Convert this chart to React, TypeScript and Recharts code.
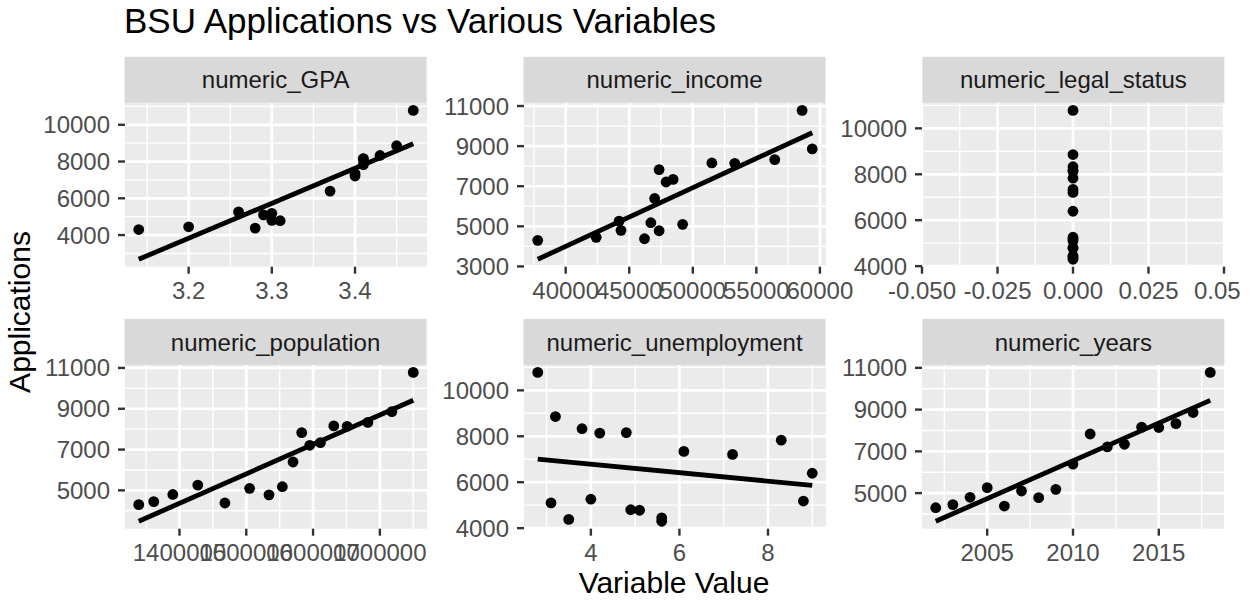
import React from 'react';
import { ScatterChart, Scatter, XAxis, YAxis, CartesianGrid, ReferenceLine } from 'recharts';

// ---------------- data ----------------
const years = [2002, 2003, 2004, 2005, 2006, 2007, 2008, 2009, 2010, 2011, 2012, 2013, 2014, 2015, 2016, 2017, 2018];
const applications = [4300, 4450, 4800, 5260, 4380, 5100, 4780, 5180, 6390, 7830, 7210, 7340, 8160, 8140, 8330, 8860, 10780];
const gpa = [3.14, 3.2, 3.3, 3.26, 3.28, 3.29, 3.31, 3.3, 3.37, 3.41, 3.4, 3.4, 3.41, 3.41, 3.43, 3.45, 3.47];
const income = [37800, 42400, 44350, 44200, 46200, 49200, 47350, 46700, 47000, 47350, 47900, 48450, 51500, 53300, 56450, 59400, 58600];
const legalStatus = [0, 0, 0, 0, 0, 0, 0, 0, 0, 0, 0, 0, 0, 0, 0, 0, 0];
const population = [1339000, 1361500, 1390000, 1427400, 1468000, 1505000, 1534000, 1554000, 1570000, 1583000, 1595000, 1611000, 1631000, 1651000, 1682000, 1718000, 1750000];
const unemployment = [5.6, 5.6, 4.9, 4.0, 3.5, 3.1, 5.1, 8.8, 9.0, 8.3, 7.2, 6.1, 4.8, 4.2, 3.8, 3.2, 2.8];

const panelNames = ['numeric_GPA', 'numeric_income', 'numeric_legal_status', 'numeric_population', 'numeric_unemployment', 'numeric_years'];

const xTicksGPA = [3.2, 3.3, 3.4];
const xMinorGPA = [3.15, 3.25, 3.35, 3.45];
const yTicksGPA = [4000, 6000, 8000, 10000];
const yMinorGPA = [3000, 5000, 7000, 9000, 11000];

const xTicksIncome = [40000, 45000, 50000, 55000, 60000];
const xMinorIncome = [37500, 42500, 47500, 52500, 57500];
const yTicksIncome = [3000, 5000, 7000, 9000, 11000];
const yMinorIncome = [4000, 6000, 8000, 10000];

const xTicksLegal = [-0.05, -0.025, 0, 0.025, 0.05];
const xMinorLegal = [-0.0375, -0.0125, 0.0125, 0.0375];
const yTicksLegal = [4000, 6000, 8000, 10000];
const yMinorLegal = [5000, 7000, 9000, 11000];

const xTicksPop = [1400000, 1500000, 1600000, 1700000];
const xMinorPop = [1350000, 1450000, 1550000, 1650000, 1750000];
const yTicksPop = [5000, 7000, 9000, 11000];
const yMinorPop = [4000, 6000, 8000, 10000];

const xTicksUnemp = [4, 6, 8];
const xMinorUnemp = [3, 5, 7, 9];
const yTicksUnemp = [4000, 6000, 8000, 10000];
const yMinorUnemp = [5000, 7000, 9000, 11000];

const xTicksYears = [2005, 2010, 2015];
const xMinorYears = [2002.5, 2007.5, 2012.5, 2017.5];
const yTicksYears = [5000, 7000, 9000, 11000];
const yMinorYears = [4000, 6000, 8000, 10000];

// ---------------- layout ----------------
const FONT = '"Liberation Sans", Arial, Helvetica, sans-serif';
const PW = 302;
const PH = 163.7;
const colLeft = [124.6, 523.5, 922.4];
const rowTop = [102.8, 364.9];
const STRIP_H = 46;
const YW = 120;
const XH = 50;
const MT = 20;
const MR = 50;
const DEVICE_W = 1241;

type PanelDef = {
  name: string;
  xs: number[];
  xTicks: number[];
  xMinor: number[];
  yTicks: number[];
  yMinor: number[];
  col: number;
  row: number;
  fmt?: (v: number) => string;
};

const panels: PanelDef[] = [
  { name: panelNames[0], xs: gpa, xTicks: xTicksGPA, xMinor: xMinorGPA, yTicks: yTicksGPA, yMinor: yMinorGPA, col: 0, row: 0, fmt: (v) => v.toFixed(1) },
  { name: panelNames[1], xs: income, xTicks: xTicksIncome, xMinor: xMinorIncome, yTicks: yTicksIncome, yMinor: yMinorIncome, col: 1, row: 0 },
  { name: panelNames[2], xs: legalStatus, xTicks: xTicksLegal, xMinor: xMinorLegal, yTicks: yTicksLegal, yMinor: yMinorLegal, col: 2, row: 0, fmt: (v) => v.toFixed(3) },
  { name: panelNames[3], xs: population, xTicks: xTicksPop, xMinor: xMinorPop, yTicks: yTicksPop, yMinor: yMinorPop, col: 0, row: 1 },
  { name: panelNames[4], xs: unemployment, xTicks: xTicksUnemp, xMinor: xMinorUnemp, yTicks: yTicksUnemp, yMinor: yMinorUnemp, col: 1, row: 1 },
  { name: panelNames[5], xs: years, xTicks: xTicksYears, xMinor: xMinorYears, yTicks: yTicksYears, yMinor: yMinorYears, col: 2, row: 1 },
];

function lmFit(xs: number[], ys: number[]) {
  const n = xs.length;
  const mx = xs.reduce((a, b) => a + b, 0) / n;
  const my = ys.reduce((a, b) => a + b, 0) / n;
  let sxx = 0;
  let sxy = 0;
  for (let i = 0; i < n; i++) {
    sxx += (xs[i] - mx) * (xs[i] - mx);
    sxy += (xs[i] - mx) * (ys[i] - my);
  }
  if (sxx < 1e-12) return null;
  const b = sxy / sxx;
  const a = my - b * mx;
  const x0 = Math.min(...xs);
  const x1 = Math.max(...xs);
  return [
    { x: x0, y: a + b * x0 },
    { x: x1, y: a + b * x1 },
  ];
}

const Dot = (props: any) => <circle cx={props.cx} cy={props.cy} r={5.4} fill="#000" />;

function Panel({ p }: { p: PanelDef }) {
  const pts = p.xs.map((x, i) => ({ x, y: applications[i] }));
  const fit = lmFit(p.xs, applications);
  const xmin = Math.min(...p.xs);
  const xmax = Math.max(...p.xs);
  const xr = xmax - xmin;
  const xDomain: [number, number] = xr === 0 ? [xmin - 0.05, xmax + 0.05] : [xmin - 0.05 * xr, xmax + 0.05 * xr];
  const allY = fit ? [...applications, fit[0].y, fit[1].y] : applications;
  const ymin = Math.min(...allY);
  const ymax = Math.max(...allY);
  const yr = ymax - ymin;
  const yDomain: [number, number] = [ymin - 0.05 * yr, ymax + 0.05 * yr];
  const inX = (v: number) => v >= xDomain[0] - 1e-9 && v <= xDomain[1] + 1e-9;
  const inY = (v: number) => v >= yDomain[0] && v <= yDomain[1];
  const xTicks = p.xTicks.filter(inX);
  const xMinor = p.xMinor.filter(inX);
  const yTicks = p.yTicks.filter(inY);
  const yMinor = p.yMinor.filter(inY);
  const tickStyle = { fontSize: 24, fill: '#4D4D4D', fontFamily: FONT };
  const left = colLeft[p.col] - YW;
  const mr = Math.min(MR, DEVICE_W - (colLeft[p.col] + PW));
  return (
    <div style={{ position: 'absolute', left, top: rowTop[p.row] - MT }}>
      <ScatterChart width={YW + PW + mr} height={MT + PH + XH} margin={{ top: MT, right: mr, bottom: 0, left: 0 }}>
        <CartesianGrid fill="#EBEBEB" stroke="#FFFFFF" strokeWidth={1.4} horizontalValues={yMinor} verticalValues={xMinor} />
        <CartesianGrid fill="none" stroke="#FFFFFF" strokeWidth={2.7} horizontalValues={yTicks} verticalValues={xTicks} />
        <XAxis
          type="number"
          dataKey="x"
          domain={xDomain}
          ticks={xTicks}
          interval={0}
          height={XH}
          axisLine={false}
          tickLine={{ stroke: '#333333', strokeWidth: 2.4 }}
          tickSize={7}
          tickMargin={8}
          tick={tickStyle}
          tickFormatter={p.fmt ? p.fmt : (v: number) => String(v)}
          allowDataOverflow
        />
        <YAxis
          type="number"
          dataKey="y"
          domain={yDomain}
          ticks={yTicks}
          interval={0}
          width={YW}
          axisLine={false}
          tickLine={{ stroke: '#333333', strokeWidth: 2.4 }}
          tickSize={7}
          tickMargin={8}
          tick={tickStyle}
          allowDataOverflow
        />
        <Scatter data={pts} isAnimationActive={false} shape={Dot} />
        {fit && <ReferenceLine segment={fit} stroke="#000000" strokeWidth={4.8} ifOverflow="visible" />}
      </ScatterChart>
    </div>
  );
}

export default function App() {
  return (
    <div style={{ position: 'absolute', left: 0, top: 0, width: 1255, height: 605, overflow: 'hidden', background: '#FFFFFF', fontFamily: FONT }}>
      {panels.map((p) => (
        <Panel key={p.name} p={p} />
      ))}
      <svg width={1255} height={605} style={{ position: 'absolute', left: 0, top: 0, pointerEvents: 'none' }}>
        <text x={124} y={33} fontSize={35} fill="#000" fontFamily={FONT}>
          BSU Applications vs Various Variables
        </text>
        {panels.map((p) => {
          const x = colLeft[p.col];
          const y = rowTop[p.row] - STRIP_H;
          return (
            <g key={'s' + p.name}>
              <rect x={x} y={y} width={PW} height={STRIP_H} fill="#D9D9D9" />
              <text x={x + PW / 2} y={y + 31.6} fontSize={24} fill="#1A1A1A" textAnchor="middle" fontFamily={FONT}>
                {p.name}
              </text>
            </g>
          );
        })}
        <text x={674} y={593} fontSize={30} fill="#000" textAnchor="middle" fontFamily={FONT}>
          Variable Value
        </text>
        <text x={30} y={312} fontSize={30} fill="#000" textAnchor="middle" fontFamily={FONT} transform="rotate(-90 30 312)">
          Applications
        </text>
      </svg>
    </div>
  );
}
